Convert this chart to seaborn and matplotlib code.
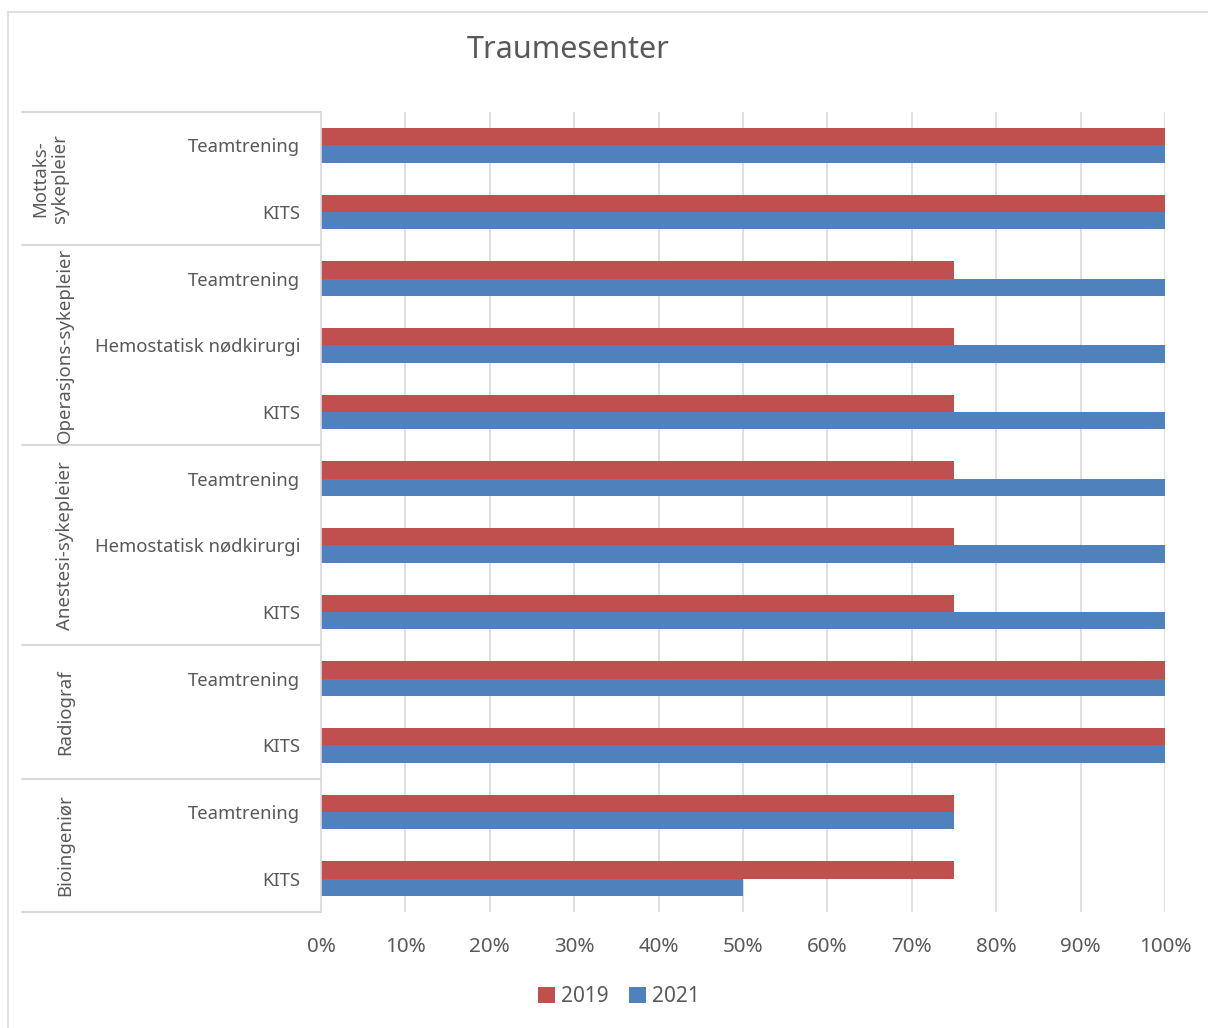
import matplotlib
matplotlib.use("Agg")
import matplotlib.pyplot as plt
import matplotlib.transforms as mtransforms
from matplotlib.patches import Rectangle
import seaborn as sns
import pandas as pd

# ---- data ----
groups = ["Mottaks-\nsykepleier", "Operasjons-sykepleier", "Anestesi-sykepleier", "Radiograf", "Bioingeniør"]
group_items = [
    ["Teamtrening", "KITS"],
    ["Teamtrening", "Hemostatisk nødkirurgi", "KITS"],
    ["Teamtrening", "Hemostatisk nødkirurgi", "KITS"],
    ["Teamtrening", "KITS"],
    ["Teamtrening", "KITS"],
]
values_2019 = [100, 100, 75, 75, 75, 75, 75, 75, 100, 100, 75, 75]
values_2021 = [100, 100, 100, 100, 100, 100, 100, 100, 100, 100, 75, 50]
years = ["2019", "2021"]
title = "Traumesenter"
xticks = [0, 10, 20, 30, 40, 50, 60, 70, 80, 90, 100]

# ---- build table ----
row_ids, row_labels = [], []
for g, items in zip(groups, group_items):
    for it in items:
        row_ids.append(f"{g}|{it}")
        row_labels.append(it)
rows = []
for rid, v19, v21 in zip(row_ids, values_2019, values_2021):
    rows.append({"row": rid, "year": years[0], "value": v19})
    rows.append({"row": rid, "year": years[1], "value": v21})
df = pd.DataFrame(rows)

sns.set_theme(style="white")
plt.rcParams["font.family"] = ["Noto Sans", "DejaVu Sans"]
text_color = "#595959"
grid_color = "#d9d9d9"

W, H = 1208, 1028
fig = plt.figure(figsize=(W / 100, H / 100), dpi=100)
fig.patch.set_facecolor("white")
ax = fig.add_axes([321 / W, 1 - 912 / H, 844 / W, 800 / H])

sns.barplot(data=df, y="row", x="value", hue="year", orient="h",
            order=row_ids, hue_order=years,
            palette=["#C0504D", "#4F81BD"], width=0.52, ax=ax,
            saturation=1, edgecolor="none", legend=True)

n = len(row_ids)
ax.set_xlim(0, 100)
ax.set_ylim(n - 0.5, -0.5)
ax.set_xticks(xticks)
ax.set_xticklabels([f"{t}%" for t in xticks])
ax.set_yticks(range(n))
ax.set_yticklabels(row_labels)
ax.set_xlabel("")
ax.set_ylabel("")
ax.grid(axis="x", color=grid_color, linewidth=1.2)
ax.grid(axis="y", visible=False)
ax.set_axisbelow(True)
for s in ["top", "right", "bottom"]:
    ax.spines[s].set_visible(False)
ax.spines["left"].set_color(grid_color)
ax.spines["left"].set_linewidth(1.2)
ax.tick_params(axis="y", length=0, pad=15, labelsize=13.3, labelcolor=text_color)
ax.tick_params(axis="x", length=0, pad=18, labelsize=14.8, labelcolor=text_color)

# group separators and labels
trans = mtransforms.blended_transform_factory(ax.transAxes, ax.transData)
x_left = (22 - 321) / 844
start = -0.5
for g, items in zip(groups, group_items):
    end = start + len(items)
    ax.plot([x_left, 0], [start, start], color=grid_color, lw=1.5,
            transform=trans, clip_on=False)
    mid = (start + end) / 2
    gx = (50 - 321) / 844 if "\n" in g else (65 - 321) / 844
    ax.text(gx, mid, g, rotation=90, ha="center", va="center",
            fontsize=13.4, color=text_color, transform=trans,
            multialignment="center", linespacing=1.1)
    start = end
ax.plot([x_left, 0], [start, start], color=grid_color, lw=1.5,
        transform=trans, clip_on=False)

# title
fig.text(568 / W, 1 - 50 / H, title, ha="center", va="center",
         fontsize=22, color=text_color)

# legend
handles, labels = ax.get_legend_handles_labels()
if ax.get_legend() is not None:
    ax.get_legend().remove()
fig.legend(handles, labels, loc="center", bbox_to_anchor=(619 / W, 1 - 997 / H),
           ncol=2, frameon=False, fontsize=15, labelcolor=text_color,
           handlelength=0.8, handleheight=0.8, handletextpad=0.3,
           columnspacing=1.0)

# chart border
fig.patches.append(Rectangle((8 / W, -0.01), 1.05, 1 - 12 / H + 0.01,
                             transform=fig.transFigure, fill=False,
                             edgecolor=grid_color, lw=1.2))

fig.savefig("out.png", dpi=100)
